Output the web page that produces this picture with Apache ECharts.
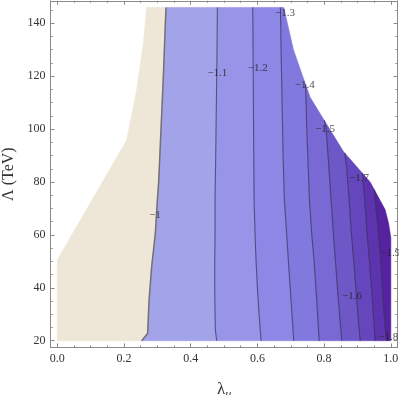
<!DOCTYPE html>
<html>
<head>
<meta charset="utf-8">
<script src="https://cdn.jsdelivr.net/npm/echarts@6/dist/echarts.min.js"></script>
<style>
    html, body { margin: 0; padding: 0; background: #fff; }
    #chart { width: 399px; height: 395px; }
</style>
</head>
<body>
<div id="chart"></div>
<script>
// region where the function is defined (clockwise from bottom-left), [lambda_u, Lambda]
var boundary = [[0, 20], [0, 50.5], [0.208, 95.8], [0.238, 114.8], [0.258, 132.4], [0.268, 146],
    [0.679, 146], [0.708, 130], [0.758, 112], [0.858, 91.5], [0.938, 80], [0.968, 73],
    [0.983, 69.5], [0.993, 64.5], [1.0, 59], [1.0, 20]];

// contour lines, bottom to top
var c10 = [[0.253, 20], [0.271, 22.8], [0.273, 29], [0.275, 35], [0.283, 48], [0.294, 60.6], [0.300, 73], [0.304, 80],
    [0.311, 100], [0.318, 120], [0.324, 140], [0.326, 146]];
var c11 = [[0.478, 20], [0.474, 24], [0.473, 30], [0.472, 40], [0.472, 50], [0.473, 60], [0.473, 73], [0.475, 90],
    [0.477, 110], [0.479, 130], [0.480, 146]];
var c12 = [[0.611, 20], [0.605, 30], [0.600, 40], [0.596, 50], [0.593, 60], [0.590, 73], [0.589, 90], [0.588, 110],
    [0.587, 130], [0.586, 146]];
var c13 = [[0.709, 20], [0.701, 35], [0.693, 50], [0.688, 60], [0.681, 73], [0.677, 90], [0.674, 110], [0.671, 130],
    [0.669, 146]];
var c14 = [[0.785, 20], [0.778, 35], [0.770, 50], [0.763, 60], [0.756, 73], [0.751, 90], [0.748, 100], [0.746, 110],
    [0.745, 117]];
var c15 = [[0.853, 20], [0.843, 35], [0.834, 50], [0.828, 60], [0.821, 73], [0.813, 88], [0.806, 100], [0.802, 103.4]];
var c16 = [[0.908, 20], [0.898, 35], [0.889, 50], [0.882, 60], [0.875, 73], [0.868, 85], [0.862, 91]];
var c17 = [[0.953, 20], [0.945, 35], [0.936, 50], [0.929, 60], [0.922, 73], [0.917, 80], [0.915, 83.3]];
var c18 = [[0.988, 20], [0.983, 25], [0.977, 35], [0.970, 50], [0.962, 62], [0.954, 72], [0.950, 77]];

var contours = [c10, c11, c12, c13, c14, c15, c16, c17, c18];

// band colours from left (above -1) to right (below -1.8)
var bandColors = ['#eee6d6', '#a3a3e9', '#9895e9', '#8d87e5', '#8279de', '#7869d4', '#6e58c8', '#6646bc', '#5e34ae', '#5522a0'];

// contour labels
var labelText = ['\u22121', '\u22121.1', '\u22121.2', '\u22121.3', '\u22121.4', '\u22121.5', '\u22121.7', '\u22121.9', '\u22121.6', '\u22121.8'];
var labelPos = [[0.293, 67.4], [0.480, 121.3], [0.601, 122.9], [0.683, 144], [0.742, 116.5], [0.803, 100],
    [0.905, 81.4], [0.998, 53], [0.884, 36.8], [0.992, 21.4]];

var xTicks = [0, 0.2, 0.4, 0.6, 0.8, 1.0];
var xMinor = [0.05, 0.1, 0.15, 0.25, 0.3, 0.35, 0.45, 0.5, 0.55, 0.65, 0.7, 0.75, 0.85, 0.9, 0.95];
var yTicks = [20, 40, 60, 80, 100, 120, 140];
var yMinor = [25, 30, 35, 45, 50, 55, 65, 70, 75, 85, 90, 95, 105, 110, 115, 125, 130, 135, 145];

var serif = 'Liberation Serif';

// put the top end of a contour onto the domain edge, remember which edge segment
function snapTop(line) {
    var top = line[line.length - 1];
    var best = 0, bestD = Infinity, proj = top;
    for (var i = 0; i < boundary.length - 1; i++) {
        var a = boundary[i], b = boundary[i + 1];
        var ax = a[0], ay = a[1] / 126, bx = b[0], by = b[1] / 126, px = top[0], py = top[1] / 126;
        var dx = bx - ax, dy = by - ay;
        var t = ((px - ax) * dx + (py - ay) * dy) / (dx * dx + dy * dy || 1);
        t = Math.max(0, Math.min(1, t));
        var qx = ax + t * dx, qy = ay + t * dy;
        var d = (qx - px) * (qx - px) + (qy - py) * (qy - py);
        if (d < bestD) { bestD = d; best = i; proj = [qx, qy * 126]; }
    }
    return { pts: line.slice(0, -1).concat([proj]), seg: best };
}

var snapped = contours.map(snapTop);

// build non-overlapping bands
var polys = [];
for (var b = 0; b <= contours.length; b++) {
    var pts = [];
    var k;
    if (b < contours.length) {
        pts = pts.concat(snapped[b].pts);
        var lo = b > 0 ? snapped[b - 1].seg + 1 : 0;
        for (k = snapped[b].seg; k >= lo; k--) pts.push(boundary[k]);
    } else {
        pts = pts.concat(snapped[b - 1].pts);
        for (k = snapped[b - 1].seg + 1; k < boundary.length; k++) pts.push(boundary[k]);
    }
    if (b > 0 && b < contours.length) {
        pts = pts.concat(snapped[b - 1].pts.slice().reverse());
    }
    polys.push(pts);
}

var myChart = echarts.init(document.getElementById('chart'));

function frameAxis(pos, isX, ticks, len, withLine) {
    var ax = {
        type: 'value',
        position: pos,
        offset: 0,
        min: isX ? -0.02 : 17.48,
        max: isX ? 1.02 : 148.5,
        axisLine: { show: withLine, onZero: false, lineStyle: { color: '#8a8a8a', width: 1 } },
        axisTick: { show: true, inside: true, length: len, customValues: ticks, lineStyle: { color: '#8a8a8a', width: 1 } },
        axisLabel: { show: false },
        splitLine: { show: false }
    };
    return ax;
}

var xAxes = [
    frameAxis('bottom', true, xTicks, 4, true),
    frameAxis('bottom', true, xMinor, 2, false),
    frameAxis('top', true, xTicks, 4, true),
    frameAxis('top', true, xMinor, 2, false)
];
xAxes[0].axisLabel = {
    show: true, customValues: xTicks, margin: 5, fontFamily: serif, fontSize: 12, color: '#333',
    formatter: function (v) { return v.toFixed(1); }
};
xAxes[0].name = '{l|\u03bb}{s|u}';
xAxes[0].nameLocation = 'middle';
xAxes[0].nameGap = 31;
xAxes[0].nameTextStyle = {
    rich: {
        l: { fontFamily: serif, fontSize: 17, color: '#333' },
        s: { fontFamily: serif, fontSize: 12, fontStyle: 'italic', color: '#333', padding: [10, 0, 0, 0] }
    }
};

var yAxes = [
    frameAxis('left', false, yTicks, 4, true),
    frameAxis('left', false, yMinor, 2, false),
    frameAxis('right', false, yTicks, 4, true),
    frameAxis('right', false, yMinor, 2, false)
];
yAxes[0].axisLabel = {
    show: true, customValues: yTicks, margin: 5, fontFamily: serif, fontSize: 12, color: '#333'
};
yAxes[0].name = '\u039b (TeV)';
yAxes[0].nameLocation = 'middle';
yAxes[0].nameGap = 31;
yAxes[0].nameTextStyle = { fontFamily: serif, fontSize: 16, color: '#333' };

var series = [{
    type: 'custom',
    silent: true,
    data: polys.map(function (p, i) { return [0.5, 80, i]; }),
    encode: { x: 0, y: 1 },
    renderItem: function (params, api) {
        var poly = polys[params.dataIndex];
        var col = bandColors[params.dataIndex];
        return {
            type: 'polygon',
            shape: { points: poly.map(function (p) { return api.coord(p); }) },
            style: { fill: col, stroke: col, lineWidth: 0.6 }
        };
    },
    z: 1
}];

contours.forEach(function (line, i) {
    series.push({
        type: 'line',
        data: snapped[i].pts,
        showSymbol: false,
        silent: true,
        lineStyle: { color: i === 0 ? 'rgba(110,105,100,0.9)' : 'rgba(50,50,85,0.7)', width: i === 0 ? 1.5 : 1.1 },
        z: 2
    });
});

series.push({
    type: 'scatter',
    symbolSize: 1,
    itemStyle: { color: 'rgba(0,0,0,0)' },
    silent: true,
    data: labelPos.map(function (p, i) { return { value: p, name: labelText[i] }; }),
    label: {
        show: true, position: 'inside', fontFamily: serif, fontSize: 11, color: '#222',
        formatter: function (p) { return p.name; }
    },
    z: 3
});

var option = {
    animation: false,
    grid: { left: 50.6, right: 1.5, top: 0.8, bottom: 47.6, containLabel: false, outerBoundsMode: 'none' },
    xAxis: xAxes,
    yAxis: yAxes,
    series: series
};

myChart.setOption(option);
</script>
</body>
</html>
